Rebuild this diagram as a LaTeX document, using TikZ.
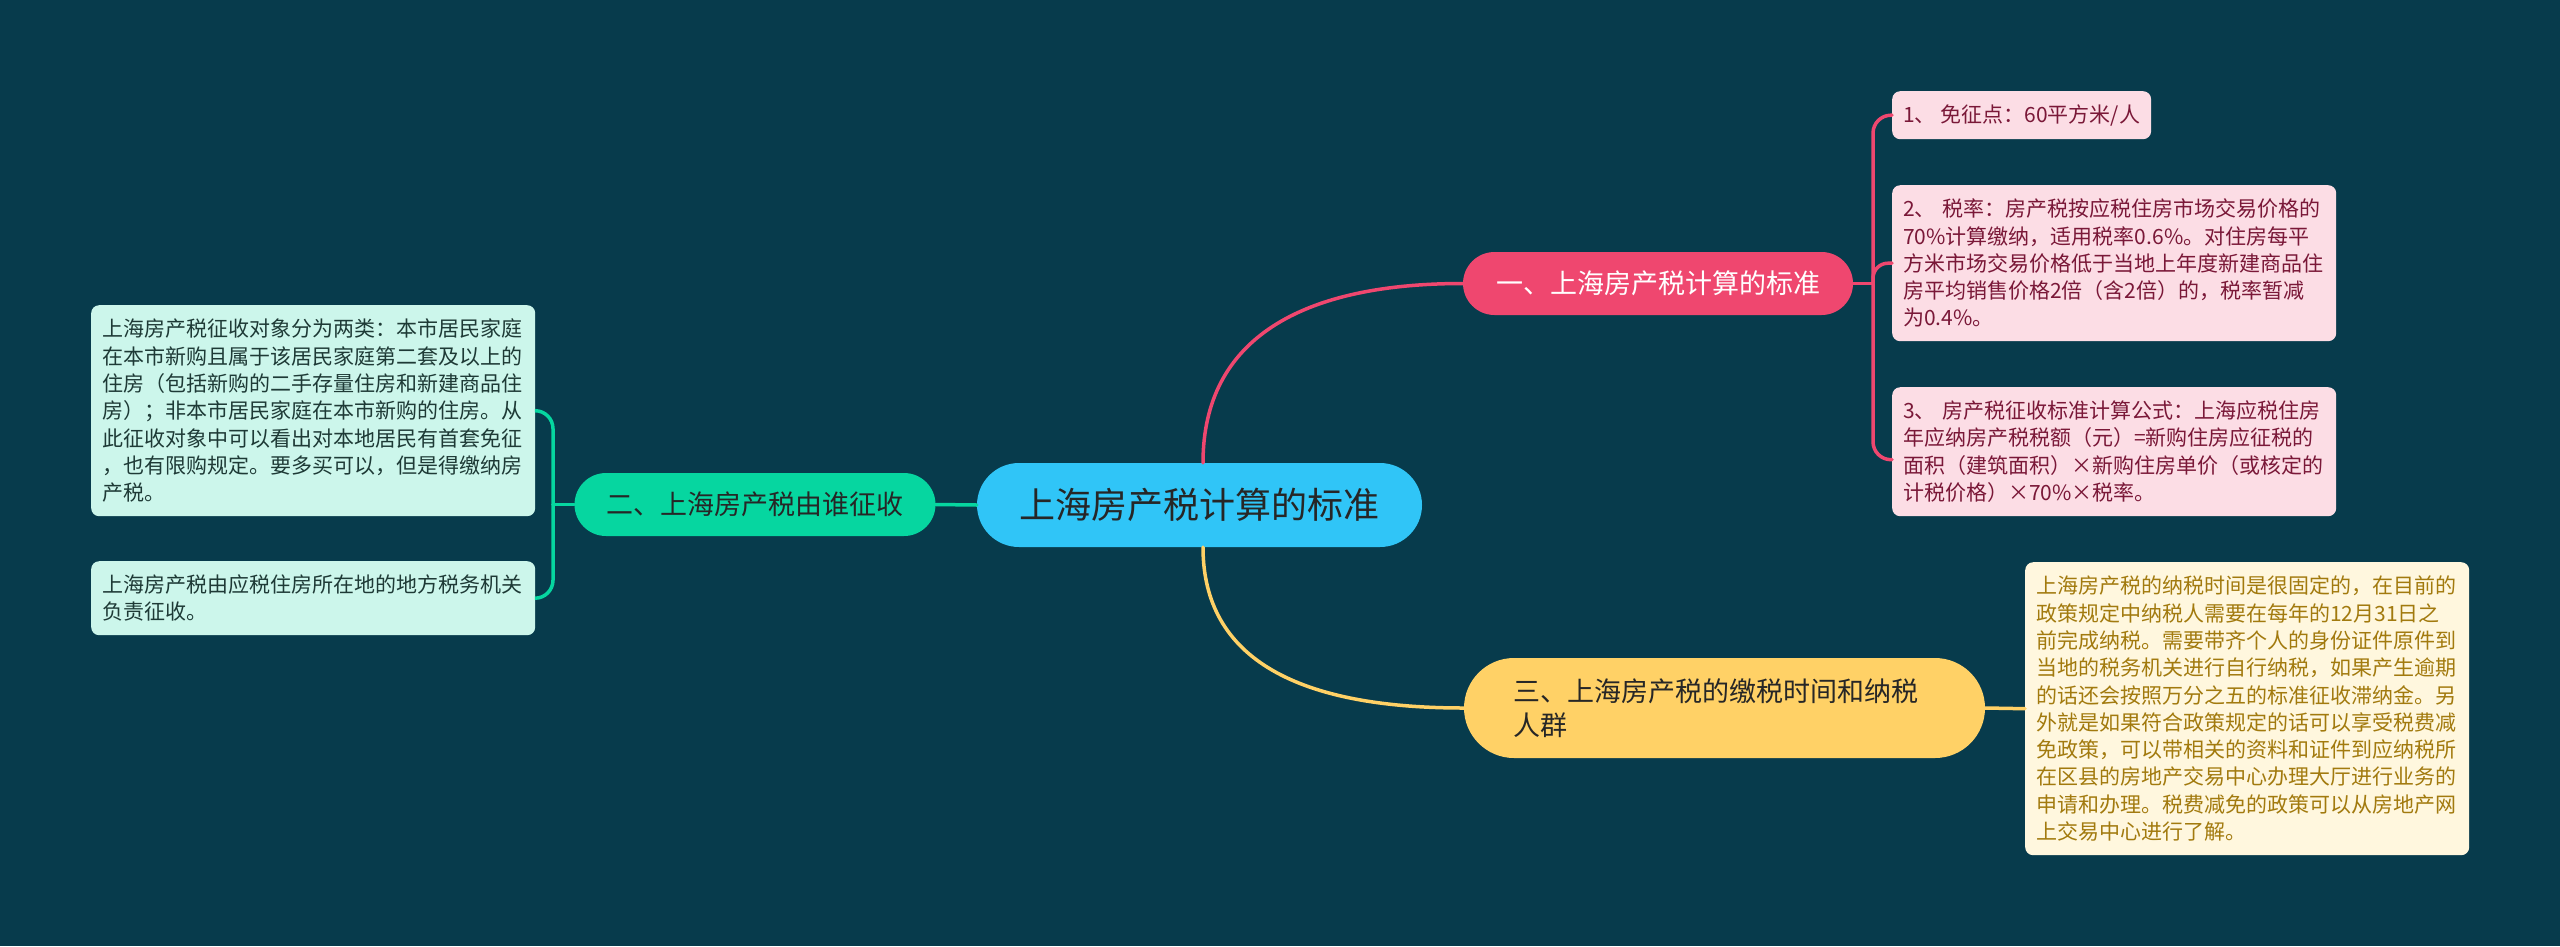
\documentclass[tikz,border=0pt]{standalone}
\usepackage{fontspec}
\setmainfont{Noto Sans CJK SC}
\definecolor{bg}{HTML}{073B4C}
\definecolor{pinkc}{HTML}{EF476F}
\definecolor{yellowc}{HTML}{FFD166}
\definecolor{greenc}{HTML}{06D6A0}
\definecolor{bluec}{HTML}{30C5F7}
\definecolor{pinkleaf}{HTML}{FCDDE5}
\definecolor{mintleaf}{HTML}{CCF6EB}
\definecolor{creamleaf}{HTML}{FFF7DE}
\definecolor{pinktext}{HTML}{7A1838}
\definecolor{minttext}{HTML}{1E3A36}
\definecolor{creamtext}{HTML}{A27A0E}
\definecolor{darktext}{HTML}{262626}
\tikzset{
  pill/.style={rectangle, inner sep=0pt, font=\fontsize{27}{34}\selectfont},
  leafbox/.style={rectangle, rounded corners=8pt, inner xsep=11pt, inner ysep=0pt,
    align=left, anchor=north west, font=\fontsize{21}{27.3}\selectfont},
  conn/.style={line width=3.5pt, line cap=round},
}
\begin{document}
\begin{tikzpicture}[x=1pt,y=-1pt]
\useasboundingbox (0,0) rectangle (2560,946);
\fill[bg] (0,0) rectangle (2560,946);

% central
\node[pill, fill=bluec, rounded corners=42pt, minimum width=445pt, minimum height=84pt,
  text=darktext, font=\fontsize{36}{40}\selectfont] (center) at (1199.5,505) {上海房产税计算的标准};

% main branches
\node[pill, fill=pinkc, rounded corners=31.5pt, minimum width=390pt, minimum height=63pt,
  text=white] (red) at (1658,283.5) {一、上海房产税计算的标准};
\node[pill, fill=greenc, rounded corners=31.5pt, minimum width=361pt, minimum height=63pt,
  text=darktext] (green) at (755,504.5) {二、上海房产税由谁征收};
\node[pill, fill=yellowc, rounded corners=50pt, minimum width=521pt, minimum height=100pt,
  text width=423pt, inner xsep=49pt, align=left, text=darktext] (yellow) at (1724.5,708)
  {三、上海房产税的缴税时间和纳税\\人群};

% pink leaves
\node[leafbox, fill=pinkleaf, text=pinktext, minimum height=48pt] (leaf1) at (1892,91)
  {1、 免征点：60平方米/人};
\node[leafbox, fill=pinkleaf, text=pinktext, text width=422pt, minimum height=156pt] (leaf2) at (1892,185)
  {2、 税率：房产税按应税住房市场交易价格的\\
70\%计算缴纳，适用税率0.6\%。对住房每平\\
方米市场交易价格低于当地上年度新建商品住\\
房平均销售价格2倍（含2倍）的，税率暂减\\
为0.4\%。};
\node[leafbox, fill=pinkleaf, text=pinktext, text width=422pt, minimum height=129pt] (leaf3) at (1892,387)
  {3、 房产税征收标准计算公式：上海应税住房\\
年应纳房产税税额（元）=新购住房应征税的\\
面积（建筑面积）×新购住房单价（或核定的\\
计税价格）×70\%×税率。};

% green leaves
\node[leafbox, fill=mintleaf, text=minttext, text width=422pt, minimum height=211pt] (leafA) at (91,305)
  {上海房产税征收对象分为两类：本市居民家庭\\
在本市新购且属于该居民家庭第二套及以上的\\
住房（包括新购的二手存量住房和新建商品住\\
房）；非本市居民家庭在本市新购的住房。从\\
此征收对象中可以看出对本地居民有首套免征\\
，也有限购规定。要多买可以，但是得缴纳房\\
产税。};
\node[leafbox, fill=mintleaf, text=minttext, text width=422pt, minimum height=74pt] (leafB) at (91,561)
  {上海房产税由应税住房所在地的地方税务机关\\
负责征收。};

% yellow leaf
\node[leafbox, fill=creamleaf, text=creamtext, text width=422pt, minimum height=293pt] (leafC) at (2025,562)
  {上海房产税的纳税时间是很固定的，在目前的\\
政策规定中纳税人需要在每年的12月31日之\\
前完成纳税。需要带齐个人的身份证件原件到\\
当地的税务机关进行自行纳税，如果产生逾期\\
的话还会按照万分之五的标准征收滞纳金。另\\
外就是如果符合政策规定的话可以享受税费减\\
免政策，可以带相关的资料和证件到应纳税所\\
在区县的房地产交易中心办理大厅进行业务的\\
申请和办理。税费减免的政策可以从房地产网\\
上交易中心进行了解。};

% junction coordinates
\coordinate (rj) at (1873,283.5);
\coordinate (gj) at (553,504.5);

% connectors
\draw[conn, pinkc] ([xshift=3.5pt]center.north) .. controls +(0,-125) and +(-160,0) .. (red.west);
\draw[conn, yellowc] ([xshift=3.5pt]center.south) .. controls +(0,113) and +(-164,0) .. (yellow.west);
\draw[conn, greenc] (center.west) -- (green.east);
\draw[conn, pinkc] (red.east) -- (rj);
\draw[conn, pinkc, rounded corners=18pt] (rj) |- (leaf1.west);
\draw[conn, pinkc, rounded corners=15pt] (rj) |- (leaf2.west);
\draw[conn, pinkc, rounded corners=18pt] (rj) |- ([yshift=-8pt]leaf3.west);
\draw[conn, greenc] (green.west) -- (gj);
\draw[conn, greenc, rounded corners=18pt] (gj) |- (leafA.east);
\draw[conn, greenc, rounded corners=18pt] (gj) |- (leafB.east);
\draw[conn, yellowc] (yellow.east) -- (leafC.west);
\end{tikzpicture}
\end{document}
